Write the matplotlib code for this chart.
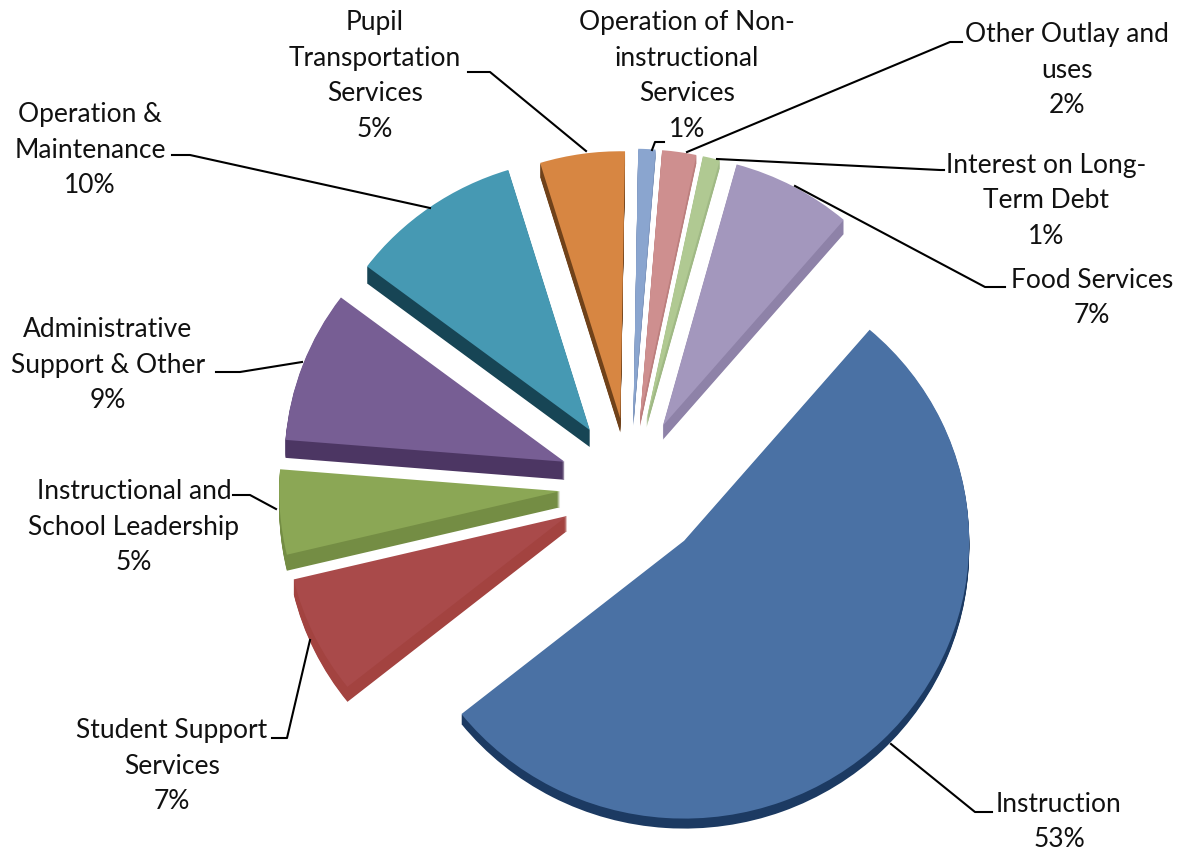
import matplotlib
matplotlib.use("Agg")
import matplotlib.pyplot as plt

W, H = 1179, 852

categories = ["Instruction", "Student Support\nServices", "Instructional and\nSchool Leadership",
              "Administrative\nSupport & Other", "Operation &\nMaintenance",
              "Pupil\nTransportation\nServices", "Operation of Non-\ninstructional\nServices",
              "Other Outlay and\nuses", "Interest on Long-\nTerm Debt", "Food Services"]
shares = [53, 7, 5, 9, 10, 5, 1, 2, 1, 7]
top_colors = ["#4a71a4", "#a94a4a", "#8ba755", "#775e94", "#4699b3",
              "#d78642", "#8aa5cf", "#ce8f8f", "#b0c992", "#a397bd"]
side_colors = ["#1c3a62", "#a34340", "#748d44", "#4c3663", "#174555",
               "#70421a", "#7f96bd", "#bc7f7e", "#a0b985", "#8e82a8"]
# height of each slice's side wall, pixels
depths = [10, 15, 16, 18, 17, 14, 8, 8, 8, 14]
# slices further back in the tilted pie come out shorter
radii = [285, 281, 281, 280, 279, 274, 276, 276, 276, 278]

# centre of each label block, in pixels from the top left
label_pos = [(1059, 822), (172, 766), (134, 527), (108, 365), (90, 150),
             (375, 76), (687, 76), (1067, 70), (1046, 201), (1092, 298)]

# leader lines, in pixels from the top left
leaders = [[(891, 744), (975, 812), (992, 812)],
           [(310, 640), (287, 738), (272, 738)],
           [(276, 509), (250, 495), (233, 495)],
           [(302, 362), (240, 372), (216, 372)],
           [(430, 208), (190, 155), (172, 155)],
           [(586, 151), (490, 72), (468, 72)],
           [(652, 150), (655, 142), (664, 142)],
           [(687, 152), (950, 42), (962, 42)],
           [(717, 159), (940, 170), (944, 170)],
           [(795, 186), (985, 287), (1005, 287)]]

START = 49.4
SQUASH = 0.975  # vertical scale of the tilted pie
CENTER_X, CENTER_Y = 630, 486
EXPLODE = [78] + [70] * (len(shares) - 1)  # pie adds explode in data units


def to_y(py):
    # pixels from the top of the figure to data y
    return (H - py) / SQUASH


def draw_pie(ax, colors, drop):
    wedges, _ = ax.pie(shares, explode=EXPLODE, colors=colors, startangle=START,
                       counterclock=False, radius=max(radii),
                       center=(CENTER_X, to_y(CENTER_Y + drop)), wedgeprops={"linewidth": 0})
    for wedge, r in zip(wedges, radii):
        wedge.set_radius(r)
    return wedges


plt.rcParams["font.family"] = "Lato"

fig = plt.figure(figsize=(W / 100, H / 100), dpi=100)
ax = fig.add_axes([0, 0, 1, 1])

# side walls: the same pie stacked downwards in the darker colours
for d in range(max(depths), 0, -1):
    for wedge, depth in zip(draw_pie(ax, side_colors, d), depths):
        wedge.set_visible(d <= depth)

draw_pie(ax, top_colors, 0)

for pts in leaders:
    ax.plot([p[0] for p in pts], [to_y(p[1]) for p in pts], color="black", lw=1.5)

for name, share, (x, y) in zip(categories, shares, label_pos):
    ax.text(x, to_y(y), f"{name}\n{share}%", ha="center", va="center", fontsize=19,
            color="#111111", linespacing=1.52)

ax.set_xlim(0, W)
ax.set_ylim(0, H / SQUASH)
ax.set_aspect("auto")
ax.axis("off")
fig.savefig("out.png", dpi=100)
